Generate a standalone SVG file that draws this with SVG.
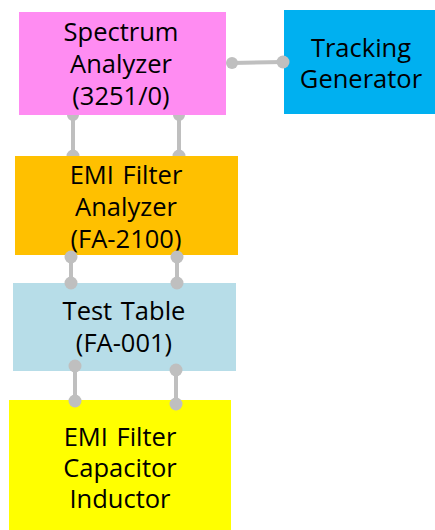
<svg xmlns="http://www.w3.org/2000/svg" width="435" height="530" viewBox="0 0 435 530">
<style>
text{font-family:"Open Sans","Noto Sans","DejaVu Sans",sans-serif;font-size:25.5px;word-spacing:2px;fill:#000;text-anchor:middle}
.ln{stroke:#BFBFBF;stroke-width:4;fill:none}
.dt{fill:#BFBFBF}
</style>
<rect width="435" height="530" fill="#fff"/>
<g id="spectrum-analyzer">
<rect x="19" y="12" width="207" height="103" fill="#FF8CF2"/>
<text x="121" y="41">Spectrum</text>
<text x="121" y="73">Analyzer</text>
<text x="121" y="105">(3251/0)</text>
</g>
<g id="tracking-generator">
<rect x="284" y="10" width="151" height="104" fill="#00B0F0"/>
<text x="361" y="57">Tracking</text>
<text x="361" y="88">Generator</text>
</g>
<g id="emi-filter-analyzer">
<rect x="15" y="156" width="223" height="99" fill="#FFC000"/>
<text x="126" y="184">EMI Filter</text>
<text x="126" y="216">Analyzer</text>
<text x="126" y="248">(FA-2100)</text>
</g>
<g id="test-table">
<rect x="13" y="283" width="223" height="88" fill="#B7DDE8"/>
<text x="124" y="320">Test Table</text>
<text x="124" y="352">(FA-001)</text>
</g>
<g id="emi-filter-capacitor-inductor">
<rect x="9" y="400" width="222" height="130" fill="#FFFF00"/>
<text x="120" y="446">EMI Filter</text>
<text x="120" y="477">Capacitor</text>
<text x="120" y="508">Inductor</text>
</g>
<g id="connectors">
<path class="ln" d="M232 63 L283 62"/>
<circle class="dt" cx="232" cy="63" r="6"/>
<circle class="dt" cx="283" cy="62" r="6.5"/>
<path class="ln" d="M73 115 V156 M179 115 V156"/>
<path class="dt" d="M67 115 A6 6 0 0 0 79 115 Z M173 115 A6 6 0 0 0 185 115 Z"/>
<path class="dt" d="M66.5 156 A6.5 6.5 0 0 1 79.5 156 Z M172.5 156 A6.5 6.5 0 0 1 185.5 156 Z"/>
<path class="ln" d="M71 257 V283 M177 257 V283"/>
<circle class="dt" cx="71" cy="257" r="6.5"/>
<circle class="dt" cx="71" cy="283" r="6.5"/>
<circle class="dt" cx="177" cy="257" r="6.5"/>
<circle class="dt" cx="177" cy="283" r="6.5"/>
<path class="ln" d="M75 366 V401 M176 370 V404"/>
<circle class="dt" cx="75" cy="366" r="6.5"/>
<circle class="dt" cx="75" cy="401" r="6.5"/>
<circle class="dt" cx="176" cy="370" r="6.5"/>
<circle class="dt" cx="176" cy="404" r="6.5"/>
</g>
</svg>
